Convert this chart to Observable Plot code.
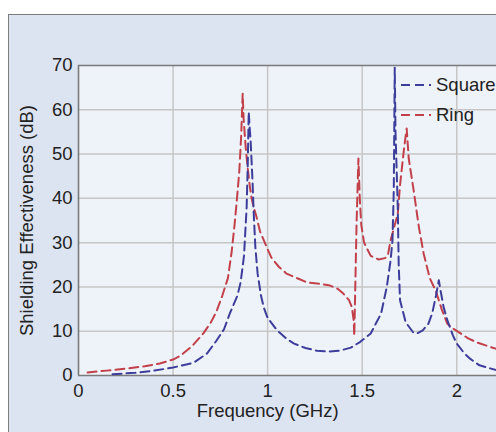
<!DOCTYPE html>
<html>
<head>
<meta charset="utf-8">
<script src="https://cdn.jsdelivr.net/npm/d3@7"></script>
<script src="https://cdn.jsdelivr.net/npm/@observablehq/plot@0.6"></script>
<style>
  html, body { margin: 0; padding: 0; background: #ffffff; }
  #wrap { position: relative; width: 496px; height: 432px; overflow: hidden; font-family: "Liberation Sans", Arial, sans-serif; }
  #panel { position: absolute; left: 8px; top: 14px; width: 520px; height: 440px; box-sizing: border-box; border: 1.5px solid #7d7d7d; background: #dde4f1; }
  #chart { position: absolute; left: 0; top: 0; }
  #legend { position: absolute; left: 401px; top: 70px; font-size: 18.5px; color: #222; }
  #legend .row { display: flex; align-items: center; height: 30px; }
  #legend svg { margin-right: 5px; }
</style>
</head>
<body>
<div id="wrap">
  <div id="panel"></div>
  <div id="chart"></div>
  <div id="legend"></div>
</div>
<script>
// Series names and colours
const seriesNames = ["Square", "Ring"];
const seriesColors = ["#3d3d9b", "#c2404a"];

// Square element: frequency (GHz) and shielding effectiveness (dB)
const squareFreq = [0.18, 0.3, 0.4, 0.5, 0.61, 0.68, 0.73, 0.77, 0.80, 0.84, 0.857, 0.875, 0.889, 0.895, 0.9, 0.905, 0.91, 0.92, 0.926, 0.935, 0.947, 0.965, 0.98, 1.0, 1.05, 1.1, 1.14, 1.2, 1.26, 1.32, 1.38, 1.44, 1.49, 1.545, 1.6, 1.63, 1.65, 1.66, 1.667, 1.672, 1.676, 1.688, 1.693, 1.70, 1.73, 1.77, 1.79, 1.82, 1.85, 1.87, 1.89, 1.905, 1.915, 1.93, 1.95, 1.98, 2.0, 2.04, 2.07, 2.12, 2.21];
const squareSE   = [0.3, 0.6, 1.1, 1.8, 2.9, 5.0, 7.9, 10.5, 14, 18, 21, 27, 38, 48, 59.5, 56, 53, 44, 37, 29, 23, 18, 15.3, 13, 10.2, 8.3, 7.2, 6.2, 5.6, 5.4, 5.6, 6.3, 7.6, 9.5, 14, 20, 26, 30.5, 42, 69.5, 55, 38, 25, 17, 12, 9.7, 9.5, 10.2, 11.7, 14, 18, 21.5, 19, 15.5, 12.5, 9, 7.2, 5, 3.8, 2.3, 1.2];

// Ring element: frequency (GHz) and shielding effectiveness (dB)
const ringFreq = [0.048, 0.15, 0.26, 0.35, 0.43, 0.5, 0.54, 0.6, 0.66, 0.70, 0.73, 0.76, 0.79, 0.81, 0.825, 0.838, 0.85, 0.86, 0.868, 0.873, 0.884, 0.894, 0.905, 0.915, 0.926, 0.94, 0.96, 0.98, 1.0, 1.02, 1.06, 1.1, 1.16, 1.21, 1.26, 1.33, 1.37, 1.40, 1.43, 1.445, 1.455, 1.458, 1.462, 1.47, 1.48, 1.487, 1.495, 1.51, 1.545, 1.587, 1.62, 1.635, 1.65, 1.688, 1.70, 1.72, 1.735, 1.746, 1.772, 1.80, 1.825, 1.857, 1.89, 1.92, 1.95, 1.98, 2.02, 2.06, 2.11, 2.21];
const ringSE   = [0.7, 1.1, 1.6, 2.1, 2.7, 3.6, 4.5, 6.6, 9.5, 12, 14.5, 18, 22, 28, 34, 40, 46, 54, 63.6, 58, 51.5, 47, 43, 40, 38, 36, 32.5, 30.5, 28.5, 26.6, 24.5, 23, 21.9, 21, 20.8, 20.3, 19.6, 18.5, 17, 15.5, 12.4, 9, 17, 34, 49, 40, 34, 30, 27, 26.2, 26.5, 27, 30.5, 36.5, 43, 50.8, 55.8, 49, 41.8, 33.4, 27.5, 22, 19, 15, 11.7, 10.6, 9.5, 8.4, 7.4, 6.0];

// Axis ticks and titles
const xTicks = [0, 0.5, 1, 1.5, 2];
const yTicks = [0, 10, 20, 30, 40, 50, 60, 70];
const xLabel = "Frequency (GHz)";
const xLabelAt = 1;   // the x title is centred under the 1 GHz tick in the original
const yLabel = "Shielding Effectiveness (dB)";

const square = squareFreq.map((f, i) => ({f, se: squareSE[i]}));
const ring = ringFreq.map((f, i) => ({f, se: ringSE[i]}));

const lineStyle = {strokeWidth: 2, strokeDasharray: "9,5", strokeLinejoin: "round", curve: "linear"};

const chart = Plot.plot({
  width: 496,
  height: 432,
  marginLeft: 78,
  marginTop: 65,
  marginBottom: 57,
  marginRight: 0,
  style: {background: "transparent", fontFamily: "'Liberation Sans', Arial, sans-serif", fontSize: "18.5px", color: "#222"},
  x: {domain: [0, 2.21]},
  y: {domain: [0, 70]},
  marks: [
    Plot.frame({fill: "#eef2f9", stroke: "none"}),
    Plot.gridX(xTicks.filter(d => d > 0), {stroke: "#c6c6c6", strokeOpacity: 1, strokeWidth: 1.5}),
    Plot.gridY(yTicks.filter(d => d > 0 && d < 70), {stroke: "#c6c6c6", strokeOpacity: 1, strokeWidth: 1.5}),
    Plot.ruleX([0], {stroke: "#7a7a7a", strokeWidth: 1.6}),
    Plot.ruleY([0, 70], {stroke: "#7a7a7a", strokeWidth: 1.6}),
    Plot.axisX({ticks: xTicks, tickSize: 0, tickPadding: 8, tickFormat: d => String(d), label: null, fontSize: 18.5}),
    Plot.text([xLabel], {x: xLabelAt, frameAnchor: "bottom", dy: 36, lineAnchor: "middle", fontSize: 18.5, fill: "#222"}),
    Plot.axisY({ticks: yTicks, tickSize: 0, tickPadding: 6, tickFormat: d => String(d), label: yLabel, labelAnchor: "center", labelArrow: "none", labelOffset: 59, fontSize: 18.5}),
    Plot.line(ring, {x: "f", y: "se", stroke: seriesColors[1], ...lineStyle}),
    Plot.line(square, {x: "f", y: "se", stroke: seriesColors[0], ...lineStyle})
  ]
});
document.getElementById("chart").appendChild(chart);

// Legend
const legend = document.getElementById("legend");
seriesNames.forEach((name, i) => {
  const row = document.createElement("div");
  row.className = "row";
  row.innerHTML = `<svg width="30" height="6"><line x1="0" y1="3" x2="30" y2="3" stroke="${seriesColors[i]}" stroke-width="2" stroke-dasharray="9,5"/></svg><span>${name}</span>`;
  legend.appendChild(row);
});
</script>
</body>
</html>
